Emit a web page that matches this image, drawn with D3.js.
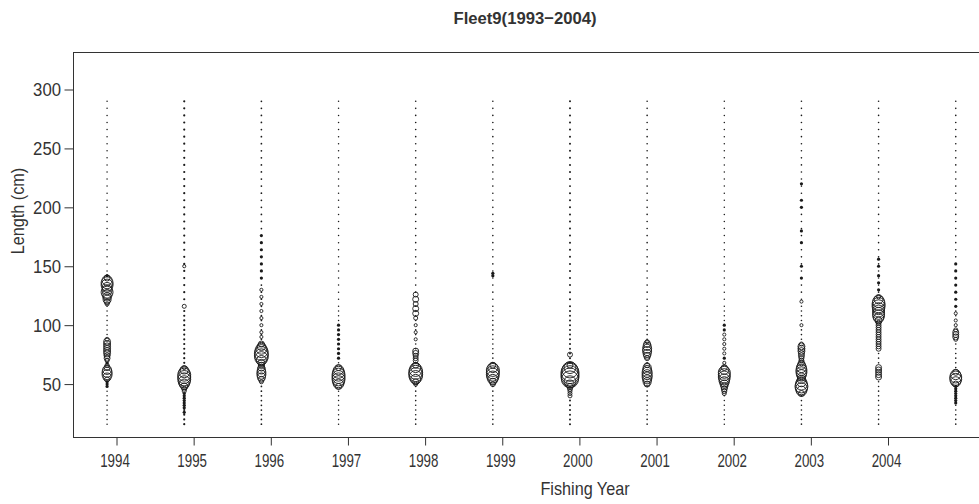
<!DOCTYPE html>
<html>
<head>
<meta charset="utf-8">
<script src="https://cdn.jsdelivr.net/npm/d3@7"></script>
<style>
  body { margin: 0; background: #fff; }
  text { font-family: "Liberation Sans", Arial, sans-serif; }
</style>
</head>
<body>
<svg id="chart" width="979" height="504"></svg>
<script>
// Fishing years shown as columns, and the years carrying tick labels
const years = [1994, 1995, 1996, 1997, 1998, 1999, 2000, 2001, 2002, 2003, 2004, 2005];
const yearTicks = [1994, 1995, 1996, 1997, 1998, 1999, 2000, 2001, 2002, 2003, 2004];
const lengthTicks = [50, 100, 150, 200, 250, 300];

// Lengths (cm) with a trace catch share in every year
const traceLengths = [290, 284, 278, 272, 266, 260, 254, 248, 242, 236, 230, 224, 218, 212, 206, 200,
  194, 188, 182, 176, 170, 164, 158, 152, 146, 140, 134, 128, 122, 116, 112,
  108, 104, 100, 96, 92, 88, 84, 80, 76, 72, 68, 64, 60, 56, 52, 48, 44, 40, 36, 32, 28, 24, 20, 16];
// Size of that trace share per year (%)
const traceShare = [0.010, 0.022, 0.014, 0.010, 0.012, 0.012, 0.018, 0.012, 0.010, 0.012, 0.012, 0.012];

// Proportions (%) at length for the bins with a visible catch share
const comp1994 = [[142,0.12],[140,1.1],[138,3.1],[136,4.4],[134,4.4],[132,3.1],[130,3.1],[128,4.4],[126,3.1],[124,2.0],[122,2.0],[120,1.1],[118,0.5],
  [88,0.5],[86,1.5],[84,1.5],[82,1.5],[80,1.5],[78,1.5],[76,1.5],[74,1.1],[72,1.1],[70,0.5],[68,0.2],
  [66,0.5],[64,1.1],[62,2.5],[60,3.1],[58,3.1],[56,2.0],[54,0.77],[52,0.1],[50,0.1],[48,0.1]];
const comp1995 = [[150,0.3],[116,0.5],[64,0.5],[62,2.0],[60,3.7],[58,5.2],[56,5.2],[54,5.2],[52,4.4],[50,3.1],[48,1.5],[46,0.77],[44,0.5],[42,0.2],[40,0.2],[38,0.2],[36,0.2],[34,0.2],[32,0.2],[30,0.1],[26,0.1]];
const comp1996 = [[176,0.1],[170,0.1],[164,0.1],[158,0.1],[152,0.1],[146,0.1],[140,0.1],[130,0.3],[124,0.3],[118,0.3],[112,0.3],[106,0.3],[100,0.3],[94,0.3],[90,0.3],
  [84,1.1],[82,2.0],[80,3.7],[78,5.2],[76,6.0],[74,6.0],[72,5.2],[70,3.1],[68,1.5],[66,1.1],[64,1.5],[62,2.0],[60,2.5],[58,2.5],[56,2.0],[54,1.1],[52,0.5]];
const comp1997 = [[100,0.1],[96,0.1],[92,0.1],[88,0.1],[84,0.1],[80,0.2],[76,0.2],[72,0.2],
  [64,1.1],[62,3.1],[60,4.4],[58,5.2],[56,5.2],[54,5.2],[52,4.4],[50,3.1],[48,1.1]];
const comp1998 = [[126,0.77],[122,1.1],[118,0.77],[114,1.1],[110,1.1],[106,0.5],[100,0.3],[94,0.3],[88,0.3],
  [78,1.1],[76,1.1],[74,0.77],[72,0.77],[70,0.77],
  [66,1.1],[64,3.1],[62,5.2],[60,6.0],[58,6.0],[56,5.2],[54,3.1],[52,1.1],[50,0.5]];
const comp1999 = [[144,0.1],[142,0.1],[66,1.1],[64,3.1],[62,5.2],[60,5.2],[58,5.2],[56,4.4],[54,3.1],[52,1.5],[50,0.77]];
const comp2000 = [[75,0.77],[66,1.1],[64,4.4],[62,7.9],[60,10],[58,10],[56,10],[54,8.9],[52,4.4],[50,2.0],[48,1.1],[46,0.77],[44,0.5],[42,0.5],[40,0.5]];
const comp2001 = [[86,0.5],[84,1.5],[82,2.0],[80,2.5],[78,2.5],[76,2.0],[74,1.5],[72,0.77],
  [66,0.77],[64,2.0],[62,2.5],[60,3.1],[58,3.1],[56,3.1],[54,2.5],[52,2.0],[50,1.1]];
const comp2002 = [[100,0.15],[96,0.15],[92,0.3],[88,0.3],[84,0.3],[80,0.3],[76,0.3],[72,0.2],[68,0.3],
  [64,1.1],[62,2.5],[60,4.4],[58,4.4],[56,4.4],[54,3.7],[52,3.1],[50,2.0],[48,1.5],[46,1.1],[44,0.77],[42,0.5]];
const comp2003 = [[220,0.1],[206,0.1],[200,0.1],[180,0.1],[170,0.15],[150,0.15],[140,0.2],[120,0.3],[100,0.3],
  [84,0.5],[82,1.5],[80,1.5],[78,1.5],[76,1.1],[74,1.1],[72,0.77],[70,0.77],[68,1.1],[66,2.0],[64,3.1],[62,3.7],[60,3.7],[58,3.1],[56,2.0],
  [54,2.0],[52,3.1],[50,4.4],[48,5.2],[46,4.4],[44,3.1],[42,1.1]];
const comp2004 = [[156,0.1],[150,0.15],[142,0.2],[136,0.2],[130,0.2],
  [124,0.5],[122,2.5],[120,4.4],[118,5.2],[116,5.2],[114,4.4],[112,4.4],[110,4.4],[108,4.4],[106,3.1],[104,1.5],
  [102,0.77],[100,0.77],[98,0.77],[96,0.77],[94,0.77],[92,0.77],[90,0.77],[88,0.77],[86,0.77],[84,0.77],[82,0.77],[80,0.77],
  [64,1.1],[62,1.1],[60,1.1],[58,1.1],[56,1.1]];
const comp2005 = [[152,0.1],[146,0.15],[140,0.15],[134,0.2],[128,0.2],[122,0.2],[116,0.2],[110,0.3],[104,0.3],[100,0.3],
  [96,0.5],[94,1.1],[92,1.1],[90,1.1],[88,0.5],[60,1.1],[58,3.1],[56,4.4],[54,4.4],[52,3.1],[50,1.1],
  [48,0.2],[46,0.2],[44,0.2],[42,0.2],[40,0.2],[38,0.2],[36,0.2],[34,0.15]];

const comps = [comp1994, comp1995, comp1996, comp1997, comp1998, comp1999, comp2000, comp2001, comp2002, comp2003, comp2004, comp2005];

const svg = d3.select("#chart");
const margin = { left: 73, top: 52, bottom: 67 };
const W = 979, H = 504;
const ink = "#333";

// Column centres sit slightly ahead of the year tick
const x = d3.scaleLinear().domain([1994, 2004]).range([116.5, 888]);
const colShift = -0.122;
const y = d3.scaleLinear().domain([0, 300]).range([443, 89.5]);
const r = d3.scaleSqrt().domain([0, 10]).range([0, 9]);

// plot frame
svg.append("rect")
  .attr("x", margin.left + 0.5).attr("y", margin.top + 0.5)
  .attr("width", W + 10 - margin.left).attr("height", (H - margin.bottom) - margin.top)
  .attr("fill", "none").attr("stroke", ink).attr("stroke-width", 1);

// axes
const xAxis = d3.axisBottom(x).tickValues(yearTicks).tickFormat(d3.format("d")).tickSize(8).tickPadding(4);
const gx = svg.append("g").attr("transform", `translate(0,${H - margin.bottom + 0.5})`).call(xAxis);
gx.select(".domain").remove();
gx.selectAll("line").attr("stroke", ink);
gx.selectAll("text").attr("font-size", 18).attr("fill", ink).attr("y", 0).attr("dy", 0)
  .attr("transform", "translate(-2,29) scale(0.74,1)");

const yAxis = d3.axisLeft(y).tickValues(lengthTicks).tickSize(9).tickPadding(3);
const gy = svg.append("g").attr("transform", `translate(${margin.left + 0.5},0)`).call(yAxis);
gy.select(".domain").remove();
gy.selectAll("line").attr("stroke", ink);
gy.selectAll("text").attr("font-size", 18).attr("fill", ink).attr("x", 0).attr("dy", "0.36em")
  .attr("transform", "translate(-12.5,0) scale(0.93,1)");

// titles
svg.append("text").attr("transform", "translate(525,24) scale(0.98,1)").attr("text-anchor", "middle")
  .attr("font-size", 17).attr("font-weight", "bold").attr("fill", ink).text("Fleet9(1993\u22122004)");
svg.append("text").attr("transform", "translate(585,495) scale(0.9,1)").attr("text-anchor", "middle")
  .attr("font-size", 18).attr("fill", ink).text("Fishing Year");
svg.append("text").attr("transform", "translate(24,211) rotate(-90) scale(0.9,1)").attr("text-anchor", "middle")
  .attr("font-size", 18).attr("fill", ink).text("Length (cm)");

// bubbles: trace shares as dots, larger shares as open circles
const plot = svg.append("g");
const dotR = v => Math.max(0.75, r(v) * 2.6);
years.forEach((yr, i) => {
  const cx = x(yr + colShift);
  const shares = new Map(traceLengths.map(L => [L, traceShare[i]]));
  comps[i].forEach(([L, v]) => shares.set(L, v));
  const marks = Array.from(shares, ([L, v]) => ({ L, v })).sort((a, b) => a.L - b.L);
  plot.selectAll(null).data(marks.filter(d => d.v < 0.3)).join("circle")
    .attr("cx", cx).attr("cy", d => y(d.L)).attr("r", d => Math.min(1.6, dotR(d.v)))
    .attr("fill", "#1a1a1a");
  plot.selectAll(null).data(marks.filter(d => d.v >= 0.3)).join("circle")
    .attr("cx", cx).attr("cy", d => y(d.L)).attr("r", d => r(d.v))
    .attr("fill", "none").attr("stroke", "#1a1a1a").attr("stroke-width", 0.9);
});
</script>
</body>
</html>
